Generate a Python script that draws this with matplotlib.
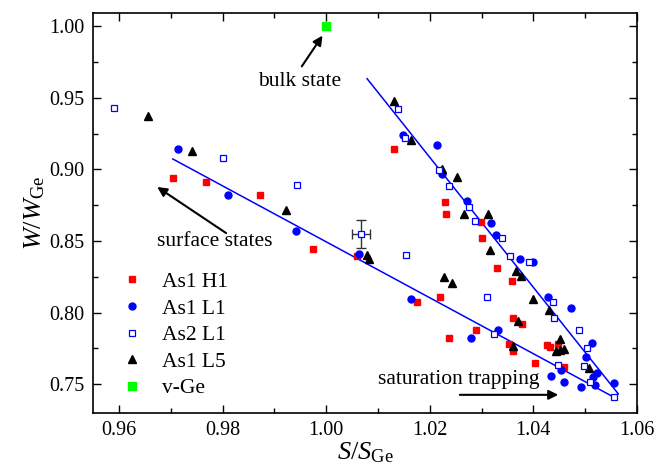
import matplotlib
matplotlib.use("Agg")
import matplotlib.pyplot as plt
from matplotlib.ticker import MultipleLocator, FormatStrFormatter

plt.rcParams['font.family'] = ['Liberation Serif', 'DejaVu Serif']
plt.rcParams['mathtext.fontset'] = 'custom'
plt.rcParams['mathtext.rm'] = 'Liberation Serif'
plt.rcParams['mathtext.it'] = 'Liberation Serif:italic'

# ---- data ----
h1_x = [0.9705, 0.9768, 0.9872, 0.9974, 1.0059, 1.0131, 1.0229, 1.0231, 1.0299, 1.0300,
        1.0329, 1.0359, 1.0175, 1.0220, 1.0237, 1.0289, 1.0353, 1.0361, 1.0378, 1.0361,
        1.0404, 1.0427, 1.0433, 1.0448, 1.0459]
h1_y = [0.8940, 0.8909, 0.8818, 0.8445, 0.8392, 0.9145, 0.8769, 0.8690, 0.8636, 0.8524,
        0.8308, 0.8217, 0.8075, 0.8112, 0.7825, 0.7879, 0.7779, 0.7965, 0.7919, 0.7734,
        0.7650, 0.7772, 0.7758, 0.7779, 0.7622]

l1_x = [0.9714, 0.9810, 0.9942, 1.0064, 1.0148, 1.0213, 1.0224, 1.0271, 1.0318, 1.0327,
        1.0374, 1.0399, 1.0164, 1.0279, 1.0331, 1.0429, 1.0472, 1.0513, 1.0502, 1.0516,
        1.0523, 1.0519, 1.0556, 1.0453, 1.0434, 1.0459, 1.0492]
l1_y = [0.9145, 0.8823, 0.8571, 0.8410, 0.9238, 0.9173, 0.8968, 0.8776, 0.8625, 0.8543,
        0.8373, 0.8352, 0.8094, 0.7821, 0.7879, 0.8112, 0.8031, 0.7790, 0.7692, 0.7552,
        0.7576, 0.7492, 0.7510, 0.7599, 0.7557, 0.7513, 0.7478]

as2_x = [0.9590, 0.9801, 0.9943, 1.0067, 1.0154, 1.0138, 1.0152, 1.0218, 1.0238, 1.0276,
         1.0287, 1.0340, 1.0354, 1.0392, 1.0437, 1.0440, 1.0488, 1.0504, 1.0310, 1.0323,
         1.0447, 1.0498, 1.0509, 1.0556]
as2_y = [0.9429, 0.9077, 0.8893, 0.8550, 0.8401, 0.9424, 0.9220, 0.8998, 0.8881, 0.8734,
         0.8643, 0.8520, 0.8392, 0.8350, 0.8075, 0.7965, 0.7879, 0.7755, 0.8112, 0.7851,
         0.7632, 0.7627, 0.7517, 0.7408]

l5_x = [0.9657, 0.9741, 0.9922, 1.0078, 1.0083, 1.0131, 1.0163, 1.0223, 1.0253, 1.0266,
        1.0312, 1.0316, 1.0366, 1.0376, 1.0228, 1.0243, 1.0399, 1.0431, 1.0371, 1.0360,
        1.0451, 1.0444, 1.0451, 1.0459, 1.0508]
l5_y = [0.9371, 0.9126, 0.8713, 0.8405, 0.8372, 0.9476, 0.9203, 0.9003, 0.8947, 0.8690,
        0.8690, 0.8438, 0.8292, 0.8257, 0.8247, 0.8206, 0.8098, 0.8019, 0.7940, 0.7767,
        0.7816, 0.7732, 0.7739, 0.7746, 0.7611]

vge_x = [1.000]
vge_y = [1.000]

# representative error bar
eb_x = [1.0067]
eb_y = [0.855]
eb_xerr = [0.0018]
eb_yerr = [0.0097]

# guide lines (shallow branch -> vertex -> steep branch)
guide_x = [0.9704, 1.0553, 1.0564, 1.0079]
guide_y = [0.9073, 0.7413, 0.7431, 0.9634]

labels = ['As1 H1', 'As1 L1', 'As2 L1', 'As1 L5', 'v-Ge']

# ---- figure ----
fig = plt.figure(figsize=(6.69, 4.72), dpi=100)
ax = fig.add_axes([0.1390, 0.1256, 0.8132, 0.8475])

ax.plot(guide_x, guide_y, color='#0000FF', lw=1.1, zorder=2)

ax.errorbar(eb_x, eb_y, xerr=eb_xerr, yerr=eb_yerr, fmt='none', ecolor='#333333',
            elinewidth=1.0, capsize=3.3, capthick=1.0, zorder=3)

h1 = ax.plot(h1_x, h1_y, ls='none', marker='s', ms=4.6, mfc='#FF0000', mec='#FF0000',
             zorder=4, label=labels[0])[0]
l1 = ax.plot(l1_x, l1_y, ls='none', marker='o', ms=5.0, mfc='#0000FF', mec='#0000FF',
             zorder=4, label=labels[1])[0]
as2 = ax.plot(as2_x, as2_y, ls='none', marker='s', ms=4.4, mfc='white', mec='#0000FF',
              mew=0.9, zorder=5, label=labels[2])[0]
l5 = ax.plot(l5_x, l5_y, ls='none', marker='^', ms=5.3, mfc='black', mec='black',
             zorder=4, label=labels[3])[0]
vg = ax.plot(vge_x, vge_y, ls='none', marker='s', ms=6.3, mfc='#00FF00', mec='#00FF00',
             zorder=4, label=labels[4])[0]

ax.set_xlim(0.955, 1.06)
ax.set_ylim(0.73, 1.0095)

ax.xaxis.set_major_locator(MultipleLocator(0.02))
ax.xaxis.set_minor_locator(MultipleLocator(0.01))
ax.yaxis.set_major_locator(MultipleLocator(0.05))
ax.yaxis.set_minor_locator(MultipleLocator(0.025))
ax.xaxis.set_major_formatter(FormatStrFormatter('%.2f'))
ax.yaxis.set_major_formatter(FormatStrFormatter('%.2f'))

ax.tick_params(which='both', direction='in', top=True, right=True, width=1.0,
               labelsize=14.5, color='black')
ax.tick_params(which='major', length=5.5, pad=6)
ax.tick_params(which='minor', length=3.5)
for s in ax.spines.values():
    s.set_linewidth(1.2)

ax.set_xlabel(r'$S/S_{\mathrm{Ge}}$', fontsize=19, labelpad=0)
ax.set_ylabel(r'$W/W_{\mathrm{Ge}}$', fontsize=19, labelpad=2)

leg = ax.legend(handles=[h1, l1, as2, l5, vg], loc='upper left',
                bbox_to_anchor=(0.052, 0.352), frameon=False, fontsize=15.5,
                numpoints=1, handlelength=1.0, handletextpad=0.9,
                labelspacing=0.30, borderpad=0, borderaxespad=0)

arrow = dict(arrowstyle='-|>', color='black', lw=1.5, mutation_scale=14,
             shrinkA=0, shrinkB=0)
ax.annotate('', xy=(0.9993, 0.9935), xytext=(0.9953, 0.972), arrowprops=arrow)
ax.text(0.9949, 0.9615, 'bulk state', fontsize=15.5, ha='center', va='center')

ax.annotate('', xy=(0.9674, 0.8877), xytext=(0.9807, 0.8555), arrowprops=arrow)
ax.text(0.9785, 0.8497, 'surface states', fontsize=15.5, ha='center', va='center')

ax.annotate('', xy=(1.0448, 0.7425), xytext=(1.0258, 0.7425), arrowprops=arrow)
ax.text(1.0255, 0.7529, 'saturation trapping', fontsize=15.5, ha='center', va='center')

fig.savefig('out.png', dpi=100)
